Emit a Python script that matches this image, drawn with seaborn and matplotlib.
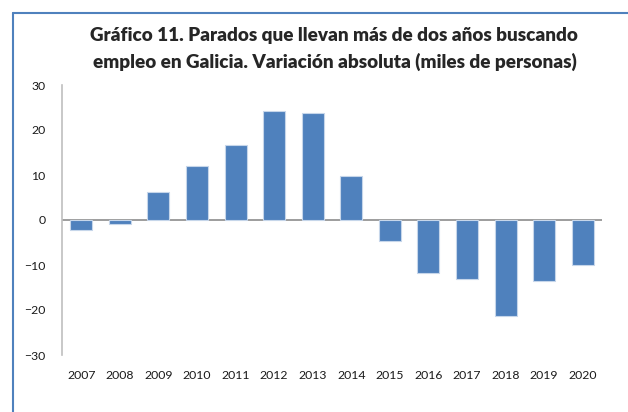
import pandas as pd
import seaborn as sns
import matplotlib.pyplot as plt
from matplotlib.lines import Line2D

# Data (miles de personas)
years = ['2007', '2008', '2009', '2010', '2011', '2012', '2013',
         '2014', '2015', '2016', '2017', '2018', '2019', '2020']
values = [-2.2, -0.8, 6.3, 12.0, 16.6, 24.2, 23.8,
          9.7, -4.6, -11.7, -13.1, -21.3, -13.6, -10.1]

df = pd.DataFrame({'year': years, 'value': values})

sns.set_style('white')
plt.rcParams['font.family'] = ['Lato', 'DejaVu Sans']

fig = plt.figure(figsize=(6.28, 4.12), dpi=100)
ax = fig.add_axes([62 / 628, 57 / 412, 540 / 628, 270 / 412])

sns.barplot(data=df, x='year', y='value', color='#4F81BD', saturation=1,
            width=0.57, edgecolor='#C6D6EA', linewidth=0.8, ax=ax)

ax.axhline(0, color='#8C8C8C', linewidth=1.2, zorder=0.5)
ax.set_ylim(-30, 30)
ax.set_yticks([-30, -20, -10, 0, 10, 20, 30])
ax.set_xlim(-0.5, len(years) - 0.5)
ax.set_xlabel('')
ax.set_ylabel('')
ax.tick_params(axis='both', length=0, labelsize=8.8, colors='#1a1a1a')
ax.tick_params(axis='y', pad=12)
ax.tick_params(axis='x', pad=11)

for s in ['top', 'right', 'bottom']:
    ax.spines[s].set_visible(False)
ax.spines['left'].set_color('#BFBFBF')
ax.spines['left'].set_linewidth(1.2)

fig.text(334 / 628, 1 - 36 / 412,
         'Gráfico 11. Parados que llevan más de dos años buscando',
         ha='center', va='center', fontsize=13.6, fontweight='heavy')
fig.text(335 / 628, 1 - 62 / 412,
         'empleo en Galicia. Variación absoluta (miles de personas)',
         ha='center', va='center', fontsize=13.6, fontweight='heavy')

# chart frame (top and left edges visible)
fig.add_artist(Line2D([13 / 628, 13 / 628], [0, 1 - 12.5 / 412],
                      transform=fig.transFigure, color='#4F81BD', linewidth=1.5))
fig.add_artist(Line2D([13 / 628, 1], [1 - 12.5 / 412, 1 - 12.5 / 412],
                      transform=fig.transFigure, color='#4F81BD', linewidth=1.5))

fig.savefig('out.png', dpi=100)
